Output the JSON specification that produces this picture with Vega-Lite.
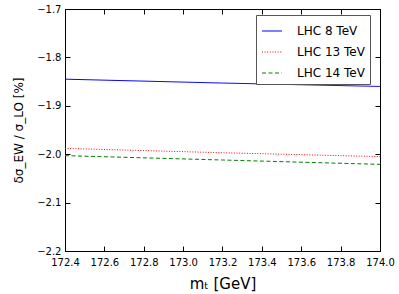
{
  "$schema": "https://vega.github.io/schema/vega-lite/v6.json",
  "autosize": "none",
  "width": 315,
  "height": 242,
  "padding": {"left": 65, "top": 9, "right": 19, "bottom": 43},
  "background": "white",
  "config": {
    "view": {"stroke": null},
    "font": "DejaVu Sans",
    "axis": {
      "grid": false,
      "domainColor": "black",
      "tickColor": "black",
      "tickSize": -5,
      "labelColor": "black",
      "labelFont": "DejaVu Sans",
      "labelFontSize": 10,
      "labelOverlap": false,
      "labelFlush": false,
      "titleColor": "black",
      "titleFont": "DejaVu Sans",
      "titleFontWeight": "normal"
    }
  },
  "data": {
    "values": [
      {"mt": 172.4, "v": -1.845, "series": "LHC 8 TeV"},
      {"mt": 173.2, "v": -1.853, "series": "LHC 8 TeV"},
      {"mt": 174.0, "v": -1.860, "series": "LHC 8 TeV"},
      {"mt": 172.4, "v": -1.988, "series": "LHC 13 TeV"},
      {"mt": 173.2, "v": -1.997, "series": "LHC 13 TeV"},
      {"mt": 174.0, "v": -2.005, "series": "LHC 13 TeV"},
      {"mt": 172.4, "v": -2.003, "series": "LHC 14 TeV"},
      {"mt": 173.2, "v": -2.012, "series": "LHC 14 TeV"},
      {"mt": 174.0, "v": -2.021, "series": "LHC 14 TeV"}
    ]
  },
  "layer": [
    {
      "mark": {"type": "line", "strokeWidth": 1},
      "encoding": {
        "x": {
          "field": "mt", "type": "quantitative",
          "scale": {"domain": [172.4, 174.0], "nice": false, "zero": false},
          "axis": {
            "orient": "bottom",
            "values": [172.4, 172.6, 172.8, 173.0, 173.2, 173.4, 173.6, 173.8, 174.0],
            "format": ".1f",
            "labelPadding": 11,
            "title": "mₜ [GeV]",
            "titleFontSize": 15,
            "titlePadding": 9
          }
        },
        "y": {
          "field": "v", "type": "quantitative",
          "scale": {"domain": [-2.2, -1.7], "nice": false, "zero": false},
          "axis": {
            "orient": "left",
            "values": [-2.2, -2.1, -2.0, -1.9, -1.8, -1.7],
            "format": ".1f",
            "labelPadding": 9,
            "title": "δσ_EW / σ_LO [%]",
            "titleFontSize": 12,
            "titleX": -47,
            "titleY": 121,
            "titleAngle": -90,
            "titleAlign": "center",
            "titleBaseline": "middle"
          }
        },
        "stroke": {
          "field": "series", "type": "nominal",
          "scale": {"domain": ["LHC 8 TeV", "LHC 13 TeV", "LHC 14 TeV"], "range": ["#0000ff", "#ff0000", "#008000"]},
          "legend": {
            "title": null,
            "orient": "none",
            "legendX": 191,
            "legendY": 6,
            "strokeColor": "#555555",
            "fillColor": "white",
            "padding": 5,
            "rowPadding": 4,
            "labelFontSize": 12,
            "labelColor": "black",
            "symbolType": "stroke",
            "symbolSize": 400,
            "symbolStrokeWidth": 1.2,
            "labelOffset": 14
          }
        },
        "strokeDash": {
          "field": "series", "type": "nominal",
          "scale": {"domain": ["LHC 8 TeV", "LHC 13 TeV", "LHC 14 TeV"], "range": [[1, 0], [1, 1.6], [4, 2.5]]},
          "legend": {
            "title": null,
            "orient": "none",
            "legendX": 191,
            "legendY": 6,
            "strokeColor": "#555555",
            "fillColor": "white",
            "padding": 5,
            "rowPadding": 4,
            "labelFontSize": 12,
            "labelColor": "black",
            "symbolType": "stroke",
            "symbolSize": 400,
            "symbolStrokeWidth": 1.2,
            "labelOffset": 14
          }
        }
      }
    },
    {
      "mark": {"type": "point", "opacity": 0},
      "encoding": {
        "x": {
          "field": "mt", "type": "quantitative",
          "scale": {"domain": [172.4, 174.0], "nice": false, "zero": false},
          "axis": {"orient": "top", "labels": false, "title": null,
            "values": [172.4, 172.6, 172.8, 173.0, 173.2, 173.4, 173.6, 173.8, 174.0]}
        },
        "y": {
          "field": "v", "type": "quantitative",
          "scale": {"domain": [-2.2, -1.7], "nice": false, "zero": false},
          "axis": {"orient": "right", "labels": false, "title": null,
            "values": [-2.2, -2.1, -2.0, -1.9, -1.8, -1.7]}
        }
      }
    }
  ],
  "resolve": {"axis": {"x": "independent", "y": "independent"}}
}
